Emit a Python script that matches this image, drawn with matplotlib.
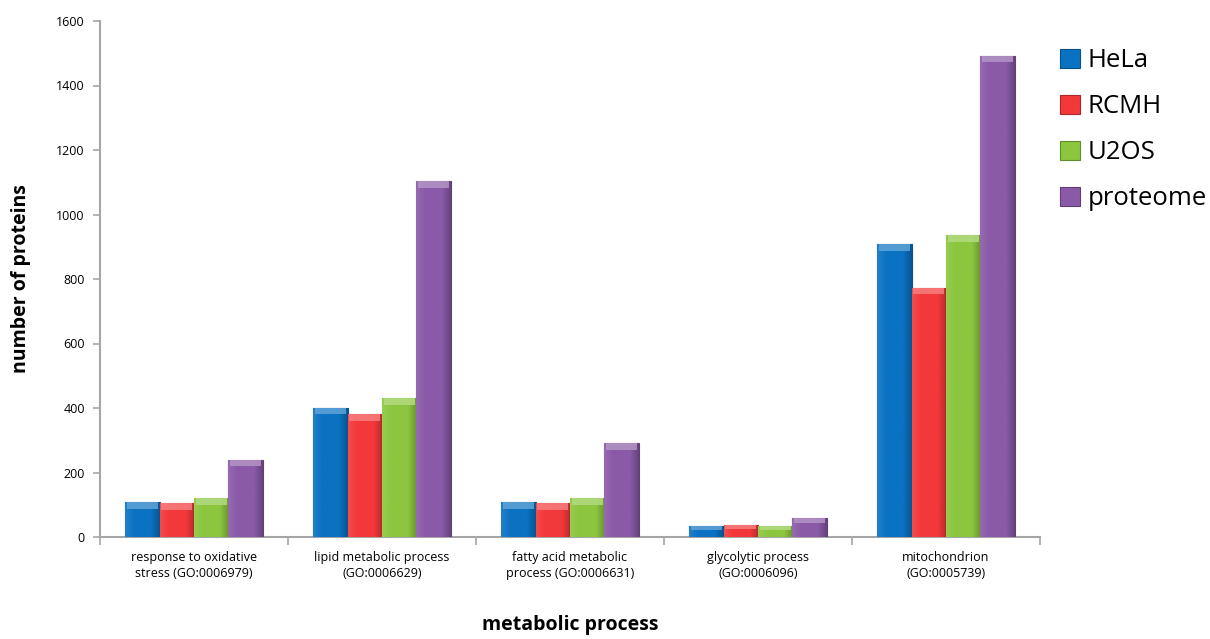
import numpy as np
import matplotlib.pyplot as plt
from matplotlib.colors import LinearSegmentedColormap, to_rgb
from matplotlib.ticker import FixedLocator, NullFormatter

plt.rcParams["font.family"] = ["Open Sans", "DejaVu Sans"]

categories = [
    "response to oxidative\nstress (GO:0006979)",
    "lipid metabolic process\n(GO:0006629)",
    "fatty acid metabolic\nprocess (GO:0006631)",
    "glycolytic process\n(GO:0006096)",
    "mitochondrion\n(GO:0005739)",
]
series = ["HeLa", "RCMH", "U2OS", "proteome"]
hela = [108, 400, 108, 33, 908]
rcmh = [105, 381, 105, 36, 772]
u2os = [120, 430, 120, 33, 936]
proteome = [240, 1103, 291, 60, 1493]

colors = ["#0A72C2", "#F2383A", "#8CC63F", "#8A5AA8"]
AXIS = "#A6A6A6"


def shade(c, f):
    r, g, b = to_rgb(c)
    if f >= 0:
        return (r + (1 - r) * f, g + (1 - g) * f, b + (1 - b) * f)
    return (r * (1 + f), g * (1 + f), b * (1 + f))


fig = plt.figure(figsize=(12.1, 6.39), dpi=100)
ax = fig.add_axes([100 / 1210, 1 - 537 / 639, 940 / 1210, 516 / 639])

x = np.arange(len(categories))
w = 0.183
offsets = (np.arange(4) - 1.5) * w
handles = []
for vals, name, col, off in zip([hela, rcmh, u2os, proteome], series, colors, offsets):
    bars = ax.bar(x + off, vals, w, color=col, edgecolor=shade(col, -0.3),
                  linewidth=0.8, label=name, zorder=3)
    handles.append(bars)
    cmap = LinearSegmentedColormap.from_list(
        name, [shade(col, 0.1), col, col, col, shade(col, -0.25)])
    grad = np.linspace(0, 1, 64).reshape(1, -1)
    for b, v in zip(bars, vals):
        x0 = b.get_x()
        im = ax.imshow(grad, cmap=cmap, aspect="auto", zorder=3.5,
                       extent=(x0, x0 + w, 0, v), interpolation="bilinear")
        im.set_clip_path(b)
        # bevelled cap
        cap = min(20, v * 0.3)
        ax.bar(x0 + w / 2, cap, w * 0.9, bottom=v - cap, color=shade(col, 0.35),
               edgecolor="none", zorder=4, alpha=0.85)

ax.set_xlim(-0.5, len(categories) - 0.5)
ax.set_ylim(0, 1600)
ax.set_yticks(np.arange(0, 1601, 200))
ax.tick_params(axis="y", labelsize=9, length=5, color=AXIS, width=1.2, pad=6)
ax.set_xticks(x)
ax.set_xticklabels(categories, fontsize=9, linespacing=1.35)
ax.tick_params(axis="x", length=0, pad=10)
ax.xaxis.set_minor_locator(FixedLocator(np.arange(-0.5, len(categories), 1)))
ax.xaxis.set_minor_formatter(NullFormatter())
ax.tick_params(axis="x", which="minor", length=6, color=AXIS, width=1.2)

for s in ["top", "right"]:
    ax.spines[s].set_visible(False)
for s in ["left", "bottom"]:
    ax.spines[s].set_color(AXIS)
    ax.spines[s].set_linewidth(1.5)

ax.set_ylabel("number of proteins", fontsize=14, fontweight="bold", labelpad=18)
fig.text(570 / 1210, 1 - 625 / 639, "metabolic process", fontsize=14,
         fontweight="bold", ha="center", va="center")

fig.legend(handles=handles, labels=series, loc="upper left",
           bbox_to_anchor=(1050 / 1210, 1 - 38 / 639), frameon=False,
           fontsize=18.5, handlelength=0.75, handleheight=0.75,
           handletextpad=0.3, labelspacing=0.82, borderaxespad=0)

fig.savefig("out.png", dpi=100, facecolor="white")
